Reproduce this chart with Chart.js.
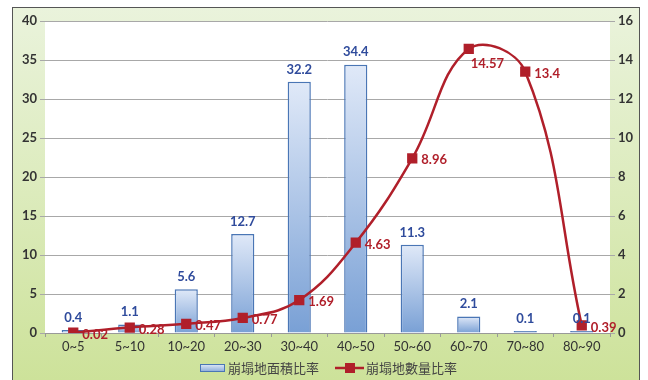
<!DOCTYPE html>
<html lang="zh-Hant">
<head>
  <meta charset="UTF-8" />
  <title>崩塌地比率</title>
  <script src="https://cdn.jsdelivr.net/npm/chart.js"></script>
  <style>
    body { margin: 0; background: #fff; }
    canvas { display: block; }
  </style>
</head>
<body>
  <canvas id="slopeChart" width="648" height="380"></canvas>

  <script>
    const categories = ['0~5', '5~10', '10~20', '20~30', '30~40', '40~50', '50~60', '60~70', '70~80', '80~90'];
    const areaRatio = [0.4, 1.1, 5.6, 12.7, 32.2, 34.4, 11.3, 2.1, 0.1, 0.1];
    const countRatio = [0.02, 0.28, 0.47, 0.77, 1.69, 4.63, 8.96, 14.57, 13.4, 0.39];
    const areaLabel = '崩塌地面積比率';
    const countLabel = '崩塌地數量比率';

    const red = '#b01f2a';
    const blueText = '#2f4b9c';
    const tickFont = { family: 'Lato', size: 13, weight: 'bold' };

    // Hintergrund, weisse Plotfläche, Rahmen
    const framePlugin = {
      id: 'frame',
      beforeDraw(chart) {
        const { ctx, chartArea: a } = chart;
        ctx.save();
        ctx.fillStyle = '#fff';
        ctx.fillRect(0, 0, chart.width, chart.height);
        const g = ctx.createLinearGradient(0, 7, 0, 380);
        g.addColorStop(0, '#eaf3dc');
        g.addColorStop(0.5, '#dcebbc');
        g.addColorStop(1, '#cde29a');
        ctx.fillStyle = g;
        ctx.fillRect(12, 7, 628, 380);
        ctx.strokeStyle = '#555';
        ctx.lineWidth = 1;
        ctx.strokeRect(12.5, 7.5, 627, 380);
        ctx.fillStyle = '#fff';
        ctx.fillRect(a.left, a.top, a.right - a.left, a.bottom - a.top);
        ctx.restore();
      },
      afterDraw(chart) {
        const { ctx } = chart;
        ctx.save();
        // Datenbeschriftungen Balken
        ctx.font = 'bold 13px Lato';
        ctx.textAlign = 'center';
        ctx.textBaseline = 'bottom';
        ctx.fillStyle = blueText;
        chart.getDatasetMeta(0).data.forEach((bar, i) => {
          ctx.fillText(areaRatio[i].toFixed(1), bar.x, bar.y - 6);
        });
        // Datenbeschriftungen Linie
        ctx.fillStyle = red;
        ctx.textAlign = 'left';
        ctx.textBaseline = 'middle';
        const maxIdx = countRatio.indexOf(Math.max(...countRatio));
        chart.getDatasetMeta(1).data.forEach((pt, i) => {
          if (i === maxIdx) ctx.fillText(String(countRatio[i]), pt.x + 2, pt.y + 15);
          else ctx.fillText(String(countRatio[i]), pt.x + 9, pt.y + 2);
        });
        // Legende
        const ly = 368;
        const bg = ctx.createLinearGradient(0, ly - 4, 0, ly + 4);
        bg.addColorStop(0, '#e2ebf8');
        bg.addColorStop(1, '#86a8d8');
        ctx.fillStyle = bg;
        ctx.fillRect(200, ly - 4, 25, 8);
        ctx.strokeStyle = '#4a76b5';
        ctx.lineWidth = 1;
        ctx.strokeRect(200.5, ly - 3.5, 24, 7);
        ctx.font = '13px "Noto Sans CJK TC"';
        ctx.fillStyle = '#444';
        ctx.fillText(areaLabel, 228, ly);
        ctx.strokeStyle = red;
        ctx.lineWidth = 2.5;
        ctx.beginPath();
        ctx.moveTo(335, ly);
        ctx.lineTo(364, ly);
        ctx.stroke();
        ctx.fillStyle = red;
        ctx.fillRect(345, ly - 5, 10, 10);
        ctx.fillStyle = '#444';
        ctx.fillText(countLabel, 366, ly);
        ctx.restore();
      }
    };

    // Verlauf je Balken: oben hell, unten dunkler
    function barGradient(c) {
      const chart = c.chart;
      const area = chart.chartArea;
      if (!area || c.raw == null) return '#a8c2e6';
      const top = chart.scales.y.getPixelForValue(c.raw);
      const bottom = chart.scales.y.getPixelForValue(0);
      if (bottom - top < 2) return '#4a76b5';
      const g = chart.ctx.createLinearGradient(0, top, 0, bottom);
      g.addColorStop(0, '#e0e9f8');
      g.addColorStop(1, '#79a0d5');
      return g;
    }

    const ctx = document.getElementById('slopeChart').getContext('2d');

    new Chart(ctx, {
      type: 'bar',
      data: {
        labels: categories,
        datasets: [
          {
            type: 'bar',
            label: areaLabel,
            data: areaRatio,
            yAxisID: 'y',
            backgroundColor: barGradient,
            borderColor: '#4a76b5',
            borderWidth: 1.5,
            minBarLength: 2,
            barPercentage: 0.41,
            categoryPercentage: 1,
            order: 2
          },
          {
            type: 'line',
            label: countLabel,
            data: countRatio,
            yAxisID: 'y1',
            borderColor: red,
            borderWidth: 2.5,
            tension: 0.4,
            pointStyle: 'rect',
            pointRadius: 5.5,
            pointBackgroundColor: red,
            pointBorderColor: red,
            order: 1
          }
        ]
      },
      options: {
        responsive: false,
        animation: false,
        layout: { padding: { left: 12, right: 8, top: 21, bottom: 23 } },
        plugins: { legend: { display: false }, tooltip: { enabled: false } },
        scales: {
          x: {
            afterFit: s => { s.height = 24; },
            grid: { drawOnChartArea: false, tickLength: 4, color: '#999' },
            border: { color: '#999' },
            ticks: { color: '#333', font: { family: 'Lato', size: 13 }, padding: 2 }
          },
          y: {
            position: 'left',
            min: 0, max: 40,
            afterFit: s => { s.width = 33; },
            ticks: { stepSize: 5, color: '#333', font: tickFont, padding: 3 },
            grid: { color: '#a8a8a8', tickLength: 5 },
            border: { display: false }
          },
          y1: {
            position: 'right',
            min: 0, max: 16,
            afterFit: s => { s.width = 30; },
            ticks: { stepSize: 2, color: '#333', font: tickFont, padding: 3 },
            grid: { drawOnChartArea: false, color: '#a8a8a8', tickLength: 5 },
            border: { display: false }
          }
        }
      },
      plugins: [framePlugin]
    });
  </script>
</body>
</html>
